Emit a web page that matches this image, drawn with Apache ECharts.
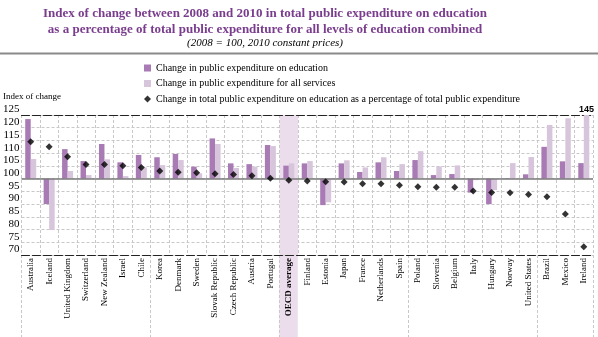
<!DOCTYPE html>
<html><head><meta charset="utf-8">
<script src="https://cdn.jsdelivr.net/npm/echarts@6/dist/echarts.min.js"></script>
<style>html,body{margin:0;padding:0;background:#fff}#c{width:598px;height:337px}</style>
</head><body><div id="c"></div>
<script>
const categories = ['Australia','Iceland','United Kingdom','Switzerland','New Zealand','Israel','Chile','Korea','Denmark','Sweden','Slovak Republic','Czech Republic','Austria','Portugal','OECD average','Finland','Estonia','Japan','France','Netherlands','Spain','Poland','Slovenia','Belgium','Italy','Hungary','Norway','United States','Brazil','Mexico','Ireland'];
const eduChange = [123.4,90.0,111.6,106.9,113.6,106.4,109.3,108.4,109.7,104.7,115.8,106.0,105.7,113.2,105.1,106.0,89.6,106.0,102.6,106.4,103.0,107.3,101.4,101.8,94.5,90.0,100.2,101.7,112.5,106.8,106.1];
const allServices = [107.7,79.8,103.0,101.4,107.6,101.0,104.4,105.3,107.3,102.1,113.6,104.2,104.7,112.8,106.0,106.9,90.7,107.2,104.4,108.4,105.7,110.8,104.8,105.2,99.4,95.5,106.1,108.5,121.1,123.7,145];
const pctChange = [114.5,112.5,108.6,105.6,105.6,105.1,104.4,103.0,102.5,102.3,101.9,101.6,101.1,100.2,99.4,99.1,98.8,98.7,98.0,98.0,97.4,96.8,96.6,96.6,95.1,94.6,94.5,93.8,92.9,86.1,73.2];
const yTicks = {min: 70, max: 125, step: 5, base: 100};

const serif = '"Liberation Serif", "DejaVu Serif", serif';
const dark = '#a97bb4', light = '#d7c5db', hl = '#ecdded';
const base = yTicks.base;
const isAvg = c => c === 'OECD average';
const highlightColors = categories.map(c => isAvg(c) ? hl : 'rgba(0,0,0,0)');
const gridLine = {show: true, lineStyle: {color: '#c8c8c8', type: [3, 2], width: 1}};

const chart = echarts.init(document.getElementById('c'), null, {renderer: 'canvas'});
chart.setOption({
  animation: false,
  title: {
    text: 'Index of change between 2008 and 2010 in total public expenditure on education\nas a percentage of total public expenditure for all levels of education combined',
    subtext: '(2008 = 100, 2010 constant prices)',
    left: 260, textAlign: 'center', top: 1, itemGap: 0,
    textStyle: {fontFamily: serif, fontWeight: 'bold', fontSize: 13, color: '#7a3d8e', lineHeight: 16},
    subtextStyle: {fontFamily: serif, fontStyle: 'italic', fontSize: 11, color: '#000'}
  },
  legend: {
    orient: 'vertical', left: 144, top: 63, padding: 0, itemGap: 5.5, itemWidth: 7, itemHeight: 7,
    textStyle: {fontFamily: serif, fontSize: 10, color: '#000'},
    data: [
      {name: 'Change in public expenditure on education', icon: 'rect'},
      {name: 'Change in public expenditure for all services', icon: 'rect'},
      {name: 'Change in total public expenditure on education as a percentage of total public expenditure', icon: 'diamond'}
    ]
  },
  graphic: [
    {type: 'line', shape: {x1: 0, y1: 53.5, x2: 598, y2: 53.5}, style: {stroke: '#8a8a8a', lineWidth: 2}},
    {type: 'text', left: 3, top: 92, style: {text: 'Index of change', font: '9px ' + serif, fill: '#000'}}
  ],
  grid: [
    {left: 21, right: 5, top: 115, bottom: 82},
    {left: 21, right: 5, top: 255, bottom: 0}
  ],
  xAxis: [
    {type: 'category', gridIndex: 0, data: categories, position: 'bottom',
     axisLine: {onZero: false, lineStyle: {color: '#222', type: [8, 3], width: 1}},
     axisTick: {show: false},
     splitLine: gridLine,
     splitArea: {show: true, areaStyle: {color: highlightColors}},
     axisLabel: {rotate: 90, margin: 3, interval: 0, fontFamily: serif, fontSize: 9, color: '#000',
       formatter: v => isAvg(v) ? '{b|' + v + '}' : v,
       rich: {b: {fontFamily: serif, fontSize: 9, fontWeight: 'bold', color: '#000'}}}},
    {type: 'category', gridIndex: 0, data: categories, position: 'top',
     axisLine: {onZero: false, lineStyle: {color: '#222', type: [8, 3], width: 1}},
     axisTick: {show: false}, axisLabel: {show: false}},
    {type: 'category', gridIndex: 1, data: categories, position: 'top',
     axisLine: {show: false}, axisTick: {show: false}, axisLabel: {show: false},
     splitLine: gridLine}
  ],
  yAxis: [
    {type: 'value', gridIndex: 0, min: yTicks.min - base, max: yTicks.max - base, interval: yTicks.step,
     axisLine: {show: false}, axisTick: {show: false},
     splitLine: gridLine,
     axisLabel: {margin: 2, verticalAlign: 'bottom', fontFamily: serif, fontSize: 11, color: '#000',
       formatter: v => String(v + base)}},
    {type: 'value', gridIndex: 1, show: false, min: 0, max: 1}
  ],
  series: [
    {name: 'Change in public expenditure on education', type: 'bar', xAxisIndex: 0, yAxisIndex: 0,
     data: eduChange.map(v => +(v - base).toFixed(2)), barWidth: 5.5, barGap: '0%',
     itemStyle: {color: dark},
     markLine: {silent: true, symbol: 'none', label: {show: false},
       lineStyle: {color: '#7a7a7a', type: 'solid', width: 1.5}, data: [{yAxis: 0}]}},
    {name: 'Change in public expenditure for all services', type: 'bar', xAxisIndex: 0, yAxisIndex: 0,
     data: allServices.map(v => +(v - base).toFixed(2)), barWidth: 5.5, barGap: '0%',
     itemStyle: {color: light},
     markPoint: {silent: true, symbol: 'circle', symbolSize: 0,
       label: {show: true, position: 'top', distance: 1, fontFamily: '"Liberation Sans", sans-serif', fontSize: 9, fontWeight: 'bold', color: '#000',
         formatter: () => String(allServices[allServices.length - 1])},
       data: [{coord: [categories[categories.length - 1], yTicks.max - base]}]}},
    {name: 'Change in total public expenditure on education as a percentage of total public expenditure', type: 'scatter', xAxisIndex: 0, yAxisIndex: 0,
     symbol: 'diamond', symbolSize: 7, z: 5,
     data: pctChange.map(v => +(v - base).toFixed(2)),
     itemStyle: {color: '#000'}},
    {name: 'highlight', type: 'bar', xAxisIndex: 2, yAxisIndex: 1, z: -1, silent: true,
     barWidth: '100%', data: categories.map(c => isAvg(c) ? 1 : null),
     itemStyle: {color: hl}}
  ]
});
</script></body></html>
